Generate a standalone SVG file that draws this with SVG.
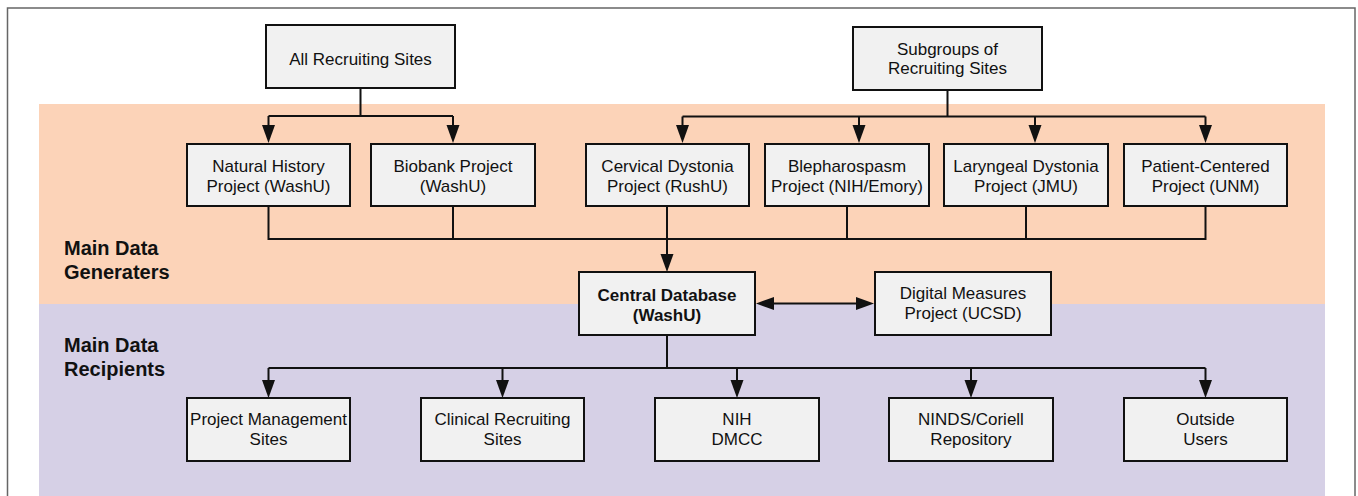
<svg xmlns="http://www.w3.org/2000/svg" width="1358" height="496" viewBox="0 0 1358 496">
<style>
.box{fill:#f1f1f1;stroke:#111;stroke-width:2}
.t{font-family:"Liberation Sans",Arial,sans-serif;font-size:17px;fill:#111;text-anchor:middle}
.tb{font-family:"Liberation Sans",Arial,sans-serif;font-size:17px;font-weight:bold;fill:#111;text-anchor:middle}
.lab{font-family:"Liberation Sans",Arial,sans-serif;font-size:20px;font-weight:bold;fill:#111}
.c{fill:none;stroke:#111;stroke-width:2}
.a{fill:none;stroke:#111;stroke-width:2;marker-end:url(#ah)}
</style>
<defs>
<marker id="ah" markerUnits="userSpaceOnUse" markerWidth="20" markerHeight="14" refX="0" refY="7" orient="auto-start-reverse" viewBox="0 0 20 14">
<path d="M0,0.5 L18,7 L0,13.5 z" fill="#111"/>
</marker>
</defs>
<rect x="0" y="0" width="1358" height="496" fill="#fff"/>
<rect x="7.5" y="8" width="1347.5" height="520" fill="none" stroke="#666" stroke-width="1.5"/>
<rect x="39" y="104" width="1286" height="200" fill="#fcd3b8"/>
<rect x="39" y="304" width="1286" height="192" fill="#d6d0e6"/>
<g id="label-generators"><text class="lab" x="64" y="255">Main Data</text><text class="lab" x="64" y="279">Generaters</text></g>
<g id="label-recipients"><text class="lab" x="64" y="352">Main Data</text><text class="lab" x="64" y="376">Recipients</text></g>
<g id="connectors">
<path class="c" d="M360.5,88 V116 M268.5,116 H453"/>
<path class="a" d="M268.5,116 V125"/>
<path class="a" d="M453,116 V125"/>
<path class="c" d="M947.5,90 V116.5 M682.5,116.5 H1205.5"/>
<path class="a" d="M682.5,116.5 V125"/>
<path class="a" d="M859,116.5 V125"/>
<path class="a" d="M1035,116.5 V125"/>
<path class="a" d="M1205.5,116.5 V125"/>
<path class="c" d="M268.5,206 V239 H1205.5 V206 M453,206 V239 M847,206 V239 M1026,206 V239"/>
<path class="a" d="M667,206 V254"/>
<path class="a" d="M774,303.5 H856" style="marker-start:url(#ah)"/>
<path class="c" d="M667,335 V368 M268.5,368 H1205.5"/>
<path class="a" d="M268.5,368 V380"/>
<path class="a" d="M502.5,368 V380"/>
<path class="a" d="M737,368 V380"/>
<path class="a" d="M971,368 V380"/>
<path class="a" d="M1205.5,368 V380"/>
</g>
<g id="all-recruiting"><rect class="box" x="266" y="25" width="189" height="63"/><text class="t" x="360.5" y="65">All Recruiting Sites</text></g>
<g id="subgroups"><rect class="box" x="853" y="27" width="189" height="63"/><text class="t" x="947.5" y="54.5">Subgroups of</text><text class="t" x="947.5" y="74">Recruiting Sites</text></g>
<g id="natural-history"><rect class="box" x="187" y="144" width="163" height="62"/><text class="t" x="268.5" y="172">Natural History</text><text class="t" x="268.5" y="191.5">Project (WashU)</text></g>
<g id="biobank"><rect class="box" x="371" y="144" width="164" height="62"/><text class="t" x="453" y="172">Biobank Project</text><text class="t" x="453" y="191.5">(WashU)</text></g>
<g id="cervical"><rect class="box" x="586" y="144" width="163" height="62"/><text class="t" x="667.5" y="172">Cervical Dystonia</text><text class="t" x="667.5" y="191.5">Project (RushU)</text></g>
<g id="blepharospasm"><rect class="box" x="765" y="144" width="164" height="62"/><text class="t" x="847" y="172">Blepharospasm</text><text class="t" x="847" y="191.5">Project (NIH/Emory)</text></g>
<g id="laryngeal"><rect class="box" x="944" y="144" width="164" height="62"/><text class="t" x="1026" y="172">Laryngeal Dystonia</text><text class="t" x="1026" y="191.5">Project (JMU)</text></g>
<g id="patient-centered"><rect class="box" x="1124" y="144" width="163" height="62"/><text class="t" x="1205.5" y="172">Patient-Centered</text><text class="t" x="1205.5" y="191.5">Project (UNM)</text></g>
<g id="central-db"><rect class="box" x="579" y="272" width="176" height="63"/><text class="tb" x="667" y="300.5">Central Database</text><text class="tb" x="667" y="320.5">(WashU)</text></g>
<g id="digital-measures"><rect class="box" x="875" y="272" width="176" height="63"/><text class="t" x="963" y="299">Digital Measures</text><text class="t" x="963" y="318.5">Project (UCSD)</text></g>
<g id="project-management"><rect class="box" x="187" y="398" width="163" height="63"/><text class="t" x="268.5" y="425">Project Management</text><text class="t" x="268.5" y="444.5">Sites</text></g>
<g id="clinical-recruiting"><rect class="box" x="421" y="398" width="163" height="63"/><text class="t" x="502.5" y="425">Clinical Recruiting</text><text class="t" x="502.5" y="444.5">Sites</text></g>
<g id="nih-dmcc"><rect class="box" x="655" y="398" width="164" height="63"/><text class="t" x="737" y="425">NIH</text><text class="t" x="737" y="444.5">DMCC</text></g>
<g id="ninds"><rect class="box" x="889" y="398" width="164" height="63"/><text class="t" x="971" y="425">NINDS/Coriell</text><text class="t" x="971" y="444.5">Repository</text></g>
<g id="outside-users"><rect class="box" x="1124" y="398" width="163" height="63"/><text class="t" x="1205.5" y="425">Outside</text><text class="t" x="1205.5" y="444.5">Users</text></g>
</svg>
